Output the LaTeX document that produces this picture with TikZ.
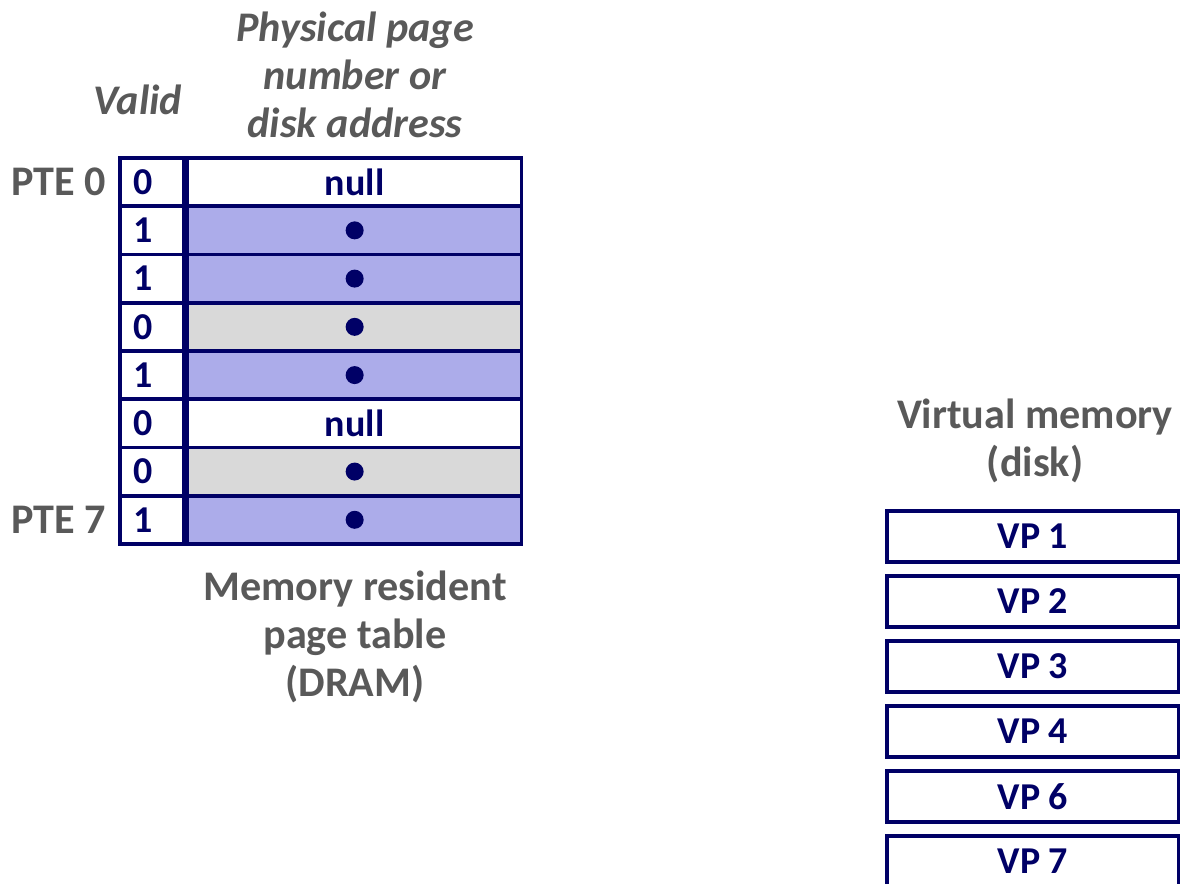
\documentclass[tikz,border=0pt]{standalone}
\usepackage{fontspec}
\setmainfont{Carlito}
\usetikzlibrary{positioning}
\definecolor{navy}{RGB}{0,0,102}
\definecolor{labelgray}{RGB}{89,89,89}
\definecolor{residentblue}{RGB}{172,172,234}
\definecolor{diskgray}{RGB}{217,217,217}
\tikzstyle{every cell} = [draw=navy, line width=2.6pt, text=navy, inner sep=0pt, font=\fontsize{27}{32}\selectfont\bfseries]
\tikzstyle{caption} = [text=labelgray, inner sep=0pt, align=center, font=\fontsize{30}{34}\selectfont\bfseries]

\begin{document}
\begin{tikzpicture}
        \tikzstyle{valid} = [every cell, minimum height=1.206cm, inner xsep=0.33cm, text width=0.94cm, align=left]
        \tikzstyle{ppn} = [every cell, minimum height=1.206cm, minimum width=8.35cm]
        \tikzstyle{vpage} = [every cell, minimum height=1.275cm, minimum width=7.3cm]
        \tikzstyle{heading} = [caption, font=\fontsize{30}{34}\selectfont\bfseries\itshape]

        \useasboundingbox (0,0) rectangle (29.5,-22.075);

        \foreach \v/\fc/\t [count=\i from 0] in {0/white/null, 1/residentblue/, 1/residentblue/, 0/diskgray/,
                1/residentblue/, 0/white/null, 0/diskgray/, 1/residentblue/} {
            \node[valid] (v\i) at (3.8,{-4.553-1.206*\i}) {\v};
            \node[ppn, fill=\fc, right=0pt of v\i] (p\i) {\t};
        }
        \foreach \i in {1,2,3,4,6,7}
            \fill[navy] (p\i) circle (0.225);

        \node[caption, left=0.3cm of v0] (pte0) {PTE 0};
        \node[caption, left=0.3cm of v7] (pte7) {PTE 7};
        \node[heading] (validhead) at (3.45,-2.5) {Valid};
        \node[heading] (ppnhead) at (8.875,-1.875) {Physical page\\number or\\disk address};
        \node[caption] (dram) at (8.875,-15.925) {Memory resident\\page table\\(DRAM)};


        \node[caption] (vmhead) at (25.875,-11.03) {Virtual memory\\(disk)};
        \node[vpage] (vp1) at (25.825,-13.41) {VP 1};
        \node[vpage, below=0.26cm of vp1] (vp2) {VP 2};
        \node[vpage, below=0.26cm of vp2] (vp3) {VP 3};
        \node[vpage, below=0.26cm of vp3] (vp4) {VP 4};
        \node[vpage, below=0.26cm of vp4] (vp6) {VP 6};
        \node[vpage, below=0.26cm of vp6] (vp7) {VP 7};

\end{tikzpicture}
\end{document}
